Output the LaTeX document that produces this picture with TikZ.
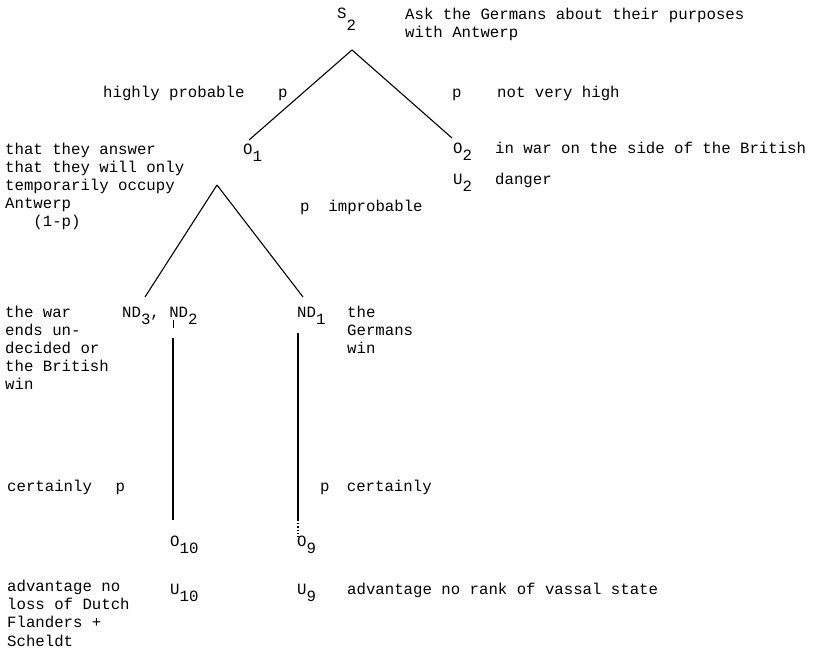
\documentclass[tikz,border=0pt]{standalone}
\usepackage{fontspec}
\setmainfont{Liberation Mono}
\newcommand{\dn}[1]{\raisebox{-0.5em}{#1}}
\begin{document}
\begin{tikzpicture}[x=1pt,y=-1pt,
  txt/.style={anchor=base west, inner sep=0pt, align=left, font=\fontsize{15.7}{18.2}\selectfont},
  ln/.style={line width=1.1pt, black}]
\useasboundingbox (0,0) rectangle (815,656);
% labels (multi-line nodes are placed by the baseline of their last line)
\node[txt] (S2) at (337,18) {S\raisebox{-0.8em}{2}};
\node[txt] (ask) at (405,37.2) {Ask the Germans about their purposes\\with Antwerp};
\node[txt] (hp) at (103,97) {highly probable};
\node[txt] (pl) at (278,97) {p};
\node[txt] (pr) at (452,97) {p};
\node[txt] (nvh) at (497,97) {not very high};
\node[txt] (O1) at (243,154) {O\dn{1}};
\node[txt] (O2) at (453,153) {O\dn{2}};
\node[txt] (war) at (495,153) {in war on the side of the British};
\node[txt] (U2) at (453,184) {U\dn{2}};
\node[txt] (danger) at (495,184) {danger};
\node[txt] (ans) at (5,226.8) {that they answer\\that they will only\\temporarily occupy\\Antwerp\\\hspace{1.8em}(1-p)};
\node[txt] (pimp) at (300,211) {p\hspace{1.2em}improbable};
\node[txt] (ND32) at (122,317) {ND\dn{3}, ND\dn{2}};
\node[txt] (ND1) at (297,317) {ND\dn{1}};
\node[txt] (germ) at (347,353.4) {the\\Germans\\win};
\node[txt] (war2) at (5,389.8) {the war\\ends un-\\decided or\\the British\\win};
\node[txt] (cl) at (7,491) {certainly\hspace{1.5em}p};
\node[txt] (cr) at (320,491) {p\hspace{1.1em}certainly};
\node[txt] (O10) at (170,546) {O\dn{10}};
\node[txt] (O9) at (297,546) {O\dn{9}};
\node[txt] (U10) at (170,594) {U\dn{10}};
\node[txt] (U9) at (297,594) {U\dn{9}};
\node[txt] (adv9) at (347,594) {advantage no rank of vassal state};
\node[txt] (adv10) at (7,646) {advantage no\\loss of Dutch\\Flanders +\\Scheldt};
% connector end points
\coordinate (S2b) at (352,50);
\coordinate (O1t) at (249,140);
\coordinate (O2t) at (452,138);
\coordinate (O1b) at (217,185);
\coordinate (ND32t) at (145,297);
\coordinate (ND1t) at (303,297);
\coordinate (ND2d1) at (173,320);
\coordinate (ND2d2) at (173,328);
\coordinate (ND2b) at (173,338);
\coordinate (O10t) at (173,520);
\coordinate (ND1b) at (298,333);
\coordinate (O9a) at (298,520);
\coordinate (O9t) at (298,537);
% connectors
\draw[ln] (S2b) -- (O1t);
\draw[ln] (S2b) -- (O2t);
\draw[ln] (O1b) -- (ND32t);
\draw[ln] (O1b) -- (ND1t);
\draw[line width=0.8pt] (ND2d1) -- (ND2d2);
\draw[ln] (ND2b) -- (O10t);
\draw[line width=1.6pt] (ND1b) -- (O9a);
\draw[line width=1.2pt, dotted] (O9a) -- (O9t);
\end{tikzpicture}
\end{document}
